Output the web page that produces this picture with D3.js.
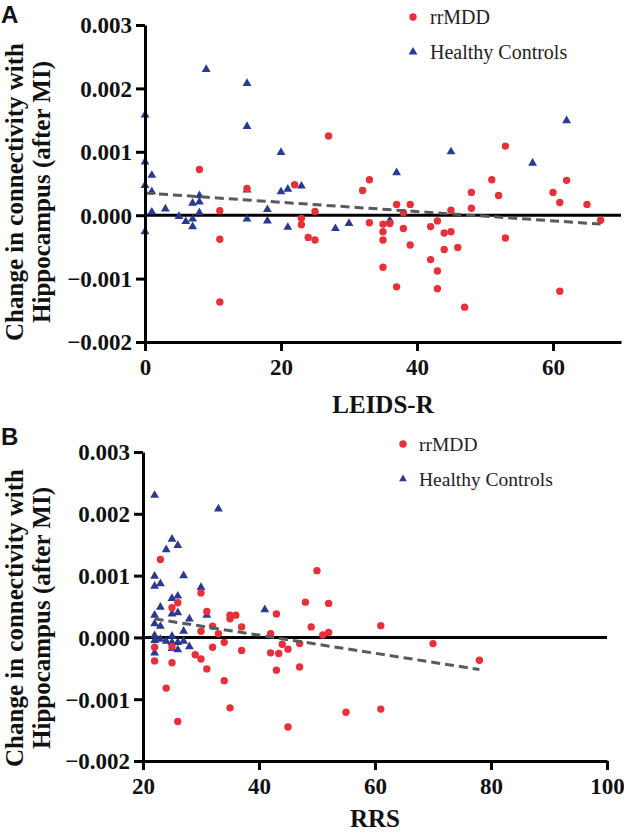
<!DOCTYPE html>
<html>
<head>
<meta charset="utf-8">
<script src="https://cdn.jsdelivr.net/npm/d3@7"></script>
<style>
html,body{margin:0;padding:0;background:#fff;}
svg{display:block;}
</style>
</head>
<body>
<svg id="chart" width="624" height="833"></svg>
<script>
// ---------------- DATA ----------------
// Panel A: LEIDS-R
const A_rr_x = [8,11,11,11,15,22,23,23,24,25,25,27,32,33,33,35,35,35,35,36,37,37,38,38,39,39,42,42,43,43,43,44,44,45,45,46,47,48,48,51,52,53,53,60,61,61,62,65,67];
const A_rr_y = [0.00072,0.00007,-0.00038,-0.00137,0.00042,0.00048,-0.00005,-0.00015,-0.00035,0.00006,-0.00039,0.00125,0.00039,0.00056,-0.00012,-0.00014,-0.00026,-0.00039,-0.00082,-0.00013,0.00017,-0.00113,0.00004,-0.00021,0.00017,-0.00047,-0.00018,-0.0007,-0.00009,-0.00088,-0.00116,-0.00028,-0.00054,0.00008,-0.00026,-0.00051,-0.00145,0.00036,0.00011,0.00056,0.00031,0.00109,-0.00036,0.00036,0.0002,-0.0012,0.00055,0.00017,-0.00008];
const A_hc_x = [0,0,1,0,1,1,0,3,5,6,7,7,7,8,8,8,9,15,15,15,15,18,18,20,20,21,21,23,28,30,36,37,45,57,62];
const A_hc_y = [0.00158,0.00084,0.00063,0.00047,0.00037,0.00005,-0.00026,0.0001,-0.00002,-0.0001,0.00019,-0.00006,-0.00018,0.00031,0.00021,0.00004,0.0023,0.00208,0.0014,0.0004,-0.00006,0.00009,-0.00009,0.00099,0.00037,0.00041,-0.00019,0.00046,-0.00021,-0.00013,-0.00008,0.00067,0.001,0.00082,0.00149];
const A_fit_x = [0, 67];
const A_fit_y = [0.00035, -0.00014];

// Panel B: RRS
const B_rr_x = [23,30,25,26,31,35,36,35,43,48,50,52,49,51,52,61,70,78,55,61,47,22,22,25,24,26,30,29,30,31,32,32,33,34,34,35,37,37,42,42,43,43.4,44,45,45,47,25];
const B_rr_y = [0.00126,0.00072,0.00048,0.00056,0.00042,0.00036,0.00036,0.0003,0.00038,0.00057,0.00108,0.00055,0.00017,0.00004,0.00008,0.00019,-0.0001,-0.00037,-0.00121,-0.00116,-0.00048,-0.00016,-0.00038,-0.00041,-0.00082,-0.00136,0.0001,-0.00028,-0.00035,-0.00051,0.00018,-0.00016,0.00006,-0.00008,-0.0007,-0.00114,0.00017,-0.00021,0.00006,-0.00025,-0.00053,-0.00026,-0.00011,-0.00019,-0.00145,-0.0001,-0.00015];
const B_hc_x = [22,33,25,24,26,22,27,22,23,30,25,26,23,22,25,26,28,31,41,22,23,27,22,22,23,24,25,25,26,27,28,26,25,22];
const B_hc_y = [0.0023,0.00208,0.00159,0.00142,0.00149,0.00099,0.001,0.00083,0.00087,0.00081,0.00063,0.00067,0.00049,0.00036,0.00038,0.0004,0.0003,0.00036,0.00045,0.00022,0.00018,0.0001,0.00003,-0.00005,-0.00003,-0.00006,0.00002,-0.00008,-0.00008,-0.00006,-0.00015,-0.0002,-0.00018,-0.00025];
const B_fit_x = [22, 78];
const B_fit_y = [0.0003, -0.00052];

const yTicks = [-0.002,-0.001,0,0.001,0.002,0.003];
const xTicksA = [0,20,40,60];
const xTicksB = [20,40,60,80,100];
const seriesNames = ["rrMDD","Healthy Controls"];
const yTitleLines = ["Change in connectivity with","Hippocampus (after MI)"];
const panelLabels = ["A","B"];
const xTitles = ["LEIDS-R","RRS"];

// ---------------- DRAW ----------------
const RED = "#e8303a", BLUE = "#2b3990";
const svg = d3.select("#chart");
const serif = "'Liberation Serif','Times New Roman',serif";

function zip(xs, ys){ return xs.map((x,i)=>({x, y: ys[i]})); }

function panel(o){
  const g = svg.append("g");
  const x = d3.scaleLinear().domain(o.xDomain).range([o.left, o.right]);
  const y = d3.scaleLinear().domain([-0.002, 0.003]).range([o.bottom, o.top]);

  // zero line
  g.append("line")
    .attr("x1", x(o.xDomain[0])).attr("x2", x(o.xDomain[1]))
    .attr("y1", y(0)).attr("y2", y(0))
    .attr("stroke","#000").attr("stroke-width",3);

  // healthy controls triangles
  g.append("g").selectAll("path").data(zip(o.hcx, o.hcy)).join("path")
    .attr("d", d3.symbol(d3.symbolTriangle, 34))
    .attr("transform", d => `translate(${x(d.x)},${y(d.y)})`)
    .attr("fill", BLUE);

  // rrMDD circles
  g.append("g").selectAll("circle").data(zip(o.rrx, o.rry)).join("circle")
    .attr("cx", d => x(d.x)).attr("cy", d => y(d.y)).attr("r", 3.7)
    .attr("fill", RED);

  // regression dashed line
  g.append("path").datum(zip(o.fitx, o.fity))
    .attr("d", d3.line().x(d=>x(d.x)).y(d=>y(d.y)))
    .attr("fill","none").attr("stroke","#5a5a5a").attr("stroke-width",3)
    .attr("stroke-dasharray","9,5");

  // axes
  const ya = g.append("g").attr("transform",`translate(${o.left},0)`)
    .call(d3.axisLeft(y).tickValues(yTicks).tickFormat(d3.format(".3f")).tickSize(9).tickPadding(4).tickSizeOuter(0));
  const xa = g.append("g").attr("transform",`translate(0,${o.bottom})`)
    .call(d3.axisBottom(x).tickValues(o.xTicks).tickFormat(d3.format("d")).tickSize(9).tickPadding(8).tickSizeOuter(0));
  [ya, xa].forEach(a => {
    a.select(".domain").attr("stroke","#000").attr("stroke-width",3);
    a.selectAll(".tick line").attr("stroke","#000").attr("stroke-width",3);
    a.selectAll(".tick text").attr("fill","#111")
      .style("font-family", serif).style("font-weight","bold").style("font-size","23px");
  });
  ya.selectAll(".tick text").attr("dy","0.34em");
  xa.selectAll(".tick text").attr("dy","0.71em");

  // x title
  g.append("text").attr("x", (o.left + o.right)/2).attr("y", o.bottom + o.xTitleDy)
    .attr("text-anchor","middle")
    .style("font-family", serif).style("font-weight","bold").style("font-size","25px").attr("fill","#111")
    .text(o.xTitle);

  // y title (two lines)
  yTitleLines.forEach((t,i) => {
    g.append("text")
      .attr("transform", `translate(${[23,50][i]},${o.yTitleCenter}) rotate(-90)`)
      .attr("text-anchor","middle")
      .style("font-family", serif).style("font-weight","bold").style("font-size","25px").attr("fill","#111")
      .text(t);
  });

  // panel letter
  g.append("text").attr("x", 1).attr("y", o.labelY)
    .style("font-family","'Liberation Sans',Arial,sans-serif").style("font-weight","bold").style("font-size","24px")
    .attr("fill","#111").text(o.label);

  // legend
  const lg = g.append("g");
  lg.append("circle").attr("cx", o.legX).attr("cy", o.legY).attr("r", 3.7).attr("fill", RED);
  lg.append("path").attr("d", d3.symbol(d3.symbolTriangle, o.legTri))
    .attr("transform",`translate(${o.legX},${o.legY + o.legGap})`).attr("fill", BLUE);
  seriesNames.forEach((s,i) => {
    lg.append("text").attr("x", o.legX + o.legTextDx).attr("y", o.legY + i*o.legGap)
      .attr("dy","0.35em")
      .style("font-family", serif).style("font-size", o.legFont + "px").attr("fill","#222")
      .text(s);
  });
}

panel({
  xDomain:[0,70], left:145, right:621, top:25, bottom:342,
  rrx:A_rr_x, rry:A_rr_y, hcx:A_hc_x, hcy:A_hc_y, fitx:A_fit_x, fity:A_fit_y,
  xTicks:xTicksA, xTitle:xTitles[0], xTitleDy:71, yTitleCenter:192, label:panelLabels[0], labelY:23,
  legX:413, legY:17, legGap:35, legTextDx:17, legFont:20, legTri:34
});
panel({
  xDomain:[20,100], left:143, right:607, top:452, bottom:761,
  rrx:B_rr_x, rry:B_rr_y, hcx:B_hc_x, hcy:B_hc_y, fitx:B_fit_x, fity:B_fit_y,
  xTicks:xTicksB, xTitle:xTitles[1], xTitleDy:66, yTitleCenter:618, label:panelLabels[1], labelY:445,
  legX:403, legY:444, legGap:35, legTextDx:16, legFont:19.5, legTri:26
});
</script>
</body>
</html>
